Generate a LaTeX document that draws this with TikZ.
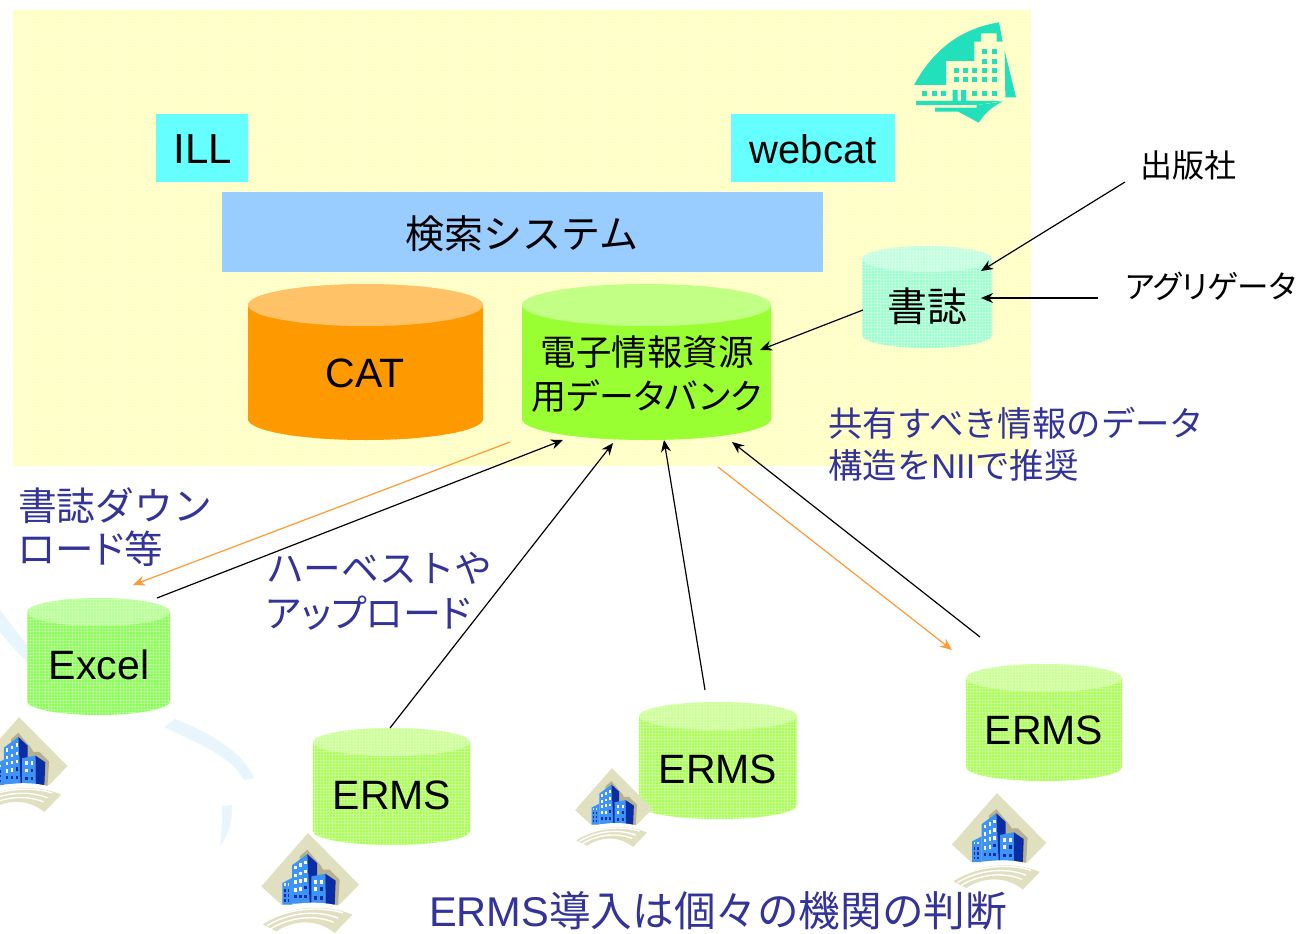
\documentclass[tikz,border=0pt]{standalone}
\usepackage{fontspec}
\setmainfont{Liberation Sans}
\newfontfamily\jp{Noto Sans CJK JP}
\newfontfamily\jq[RawFeature=+palt]{Noto Sans CJK JP}
\usetikzlibrary{arrows.meta,patterns}
\pgfdeclarepatternformonly{mesh}{\pgfpointorigin}{\pgfqpoint{3.3pt}{3.3pt}}{\pgfqpoint{3.3pt}{3.3pt}}{%
  \pgfsetlinewidth{0.8pt}%
  \pgfpathmoveto{\pgfqpoint{0pt}{1.65pt}}\pgfpathlineto{\pgfqpoint{3.3pt}{1.65pt}}%
  \pgfpathmoveto{\pgfqpoint{1.65pt}{0pt}}\pgfpathlineto{\pgfqpoint{1.65pt}{3.3pt}}%
  \pgfusepath{stroke}}
\definecolor{paleY}{HTML}{FFFFBE}
\definecolor{paleM}{HTML}{FFFFE2}
\definecolor{ill}{HTML}{66FFFF}
\definecolor{srch}{HTML}{99CCFF}
\definecolor{catB}{HTML}{FF9900}
\definecolor{catT}{HTML}{FFC266}
\definecolor{eleB}{HTML}{99FF33}
\definecolor{eleT}{HTML}{C2FF85}
\definecolor{bibB}{HTML}{99FFCC}
\definecolor{bibT}{HTML}{C2FFE0}
\definecolor{bibM}{HTML}{D8FFEA}
\definecolor{excB}{HTML}{88FF55}
\definecolor{excT}{HTML}{B8FF99}
\definecolor{excM}{HTML}{D0FFB8}
\definecolor{ermB}{HTML}{A8FF55}
\definecolor{ermT}{HTML}{CCFF99}
\definecolor{ermM}{HTML}{DEFFB8}
\definecolor{inkblue}{HTML}{333399}
\definecolor{arrowO}{HTML}{FF9933}
\definecolor{teal}{HTML}{22E0BB}
\definecolor{bgArc}{HTML}{E8F5FD}
\definecolor{sand}{HTML}{E0DFC0}
\definecolor{shad}{HTML}{B5B08E}
\definecolor{bFront}{HTML}{3D94F5}
\definecolor{bSide}{HTML}{0A2DA5}
\tikzset{
  x=1pt,y=-1pt,
  boxlab/.style={inner sep=0pt,text=black},
  note/.style={inner sep=0pt,text=inkblue,anchor=west,align=left},
  blk/.style={draw=black,line width=1.2pt,-{Stealth[length=12pt,width=10pt]}},
  org/.style={draw=arrowO,line width=1.2pt,-{Stealth[length=12pt,width=10pt]}},
}
\newcommand{\fs}[1]{\fontsize{#1}{#1}\selectfont}
% x1 x2 top bottom ry body top bodymesh topmesh
\newcommand{\cyl}[9]{%
  \path[fill=#6] (#1,#3+#5) -- (#1,#4-#5) .. controls (#1,#4-#5*0.45) and ({#1+(#2-#1)*0.22},#4) .. ({(#1+#2)/2},#4)
     .. controls ({#2-(#2-#1)*0.22},#4) and (#2,#4-#5*0.45) .. (#2,#4-#5) -- (#2,#3+#5) -- cycle;
  \path[pattern=mesh,pattern color=#8] (#1,#3+#5) -- (#1,#4-#5) .. controls (#1,#4-#5*0.45) and ({#1+(#2-#1)*0.22},#4) .. ({(#1+#2)/2},#4)
     .. controls ({#2-(#2-#1)*0.22},#4) and (#2,#4-#5*0.45) .. (#2,#4-#5) -- (#2,#3+#5) -- cycle;
  \fill[#7] ({(#1+#2)/2},#3+#5) ellipse[x radius={(#2-#1)/2},y radius=#5];
  \path[pattern=mesh,pattern color=#9] ({(#1+#2)/2},#3+#5) ellipse[x radius={(#2-#1)/2},y radius=#5];
}
\newcommand{\bldg}[3]{%
  \begin{scope}[shift={(#1,#2)},scale=#3/3,shift={(-925,-730)}]
    \fill[sand] (925,730) -- (1078,885) -- (1020,945) -- (845,945) -- (785,890) -- cycle;
    \fill[shad] (923,780) -- (965,830) -- (970,840) -- (990,840) -- (1020,870) -- (1015,948) -- (900,948) -- (900,800) -- cycle;
    \fill[bFront] (848,880) -- (877,865) -- (877,945) -- (848,945) -- cycle;
    \fill[bFront] (877,827) -- (923,793) -- (930,942) -- (877,942) -- cycle;
    \fill[bSide] (923,793) -- (952,820) -- (952,942) -- (930,942) -- cycle;
    \fill[bFront] (935,860) -- (977,852) -- (978,945) -- (935,942) -- cycle;
    \fill[bSide] (977,852) -- (1008,873) -- (1005,948) -- (978,945) -- cycle;
    \foreach \cy in {828,852,872,895} \fill[white] (884,\cy) rectangle ++(7,11);
    \foreach \cy in {821,846,868,892} \fill[white] (899,\cy) rectangle ++(7,11);
    \foreach \cy in {813,840,865} \fill[white] (914,\cy) rectangle ++(7,11);
    \fill[bSide] (914,888) rectangle ++(7,11);
    \foreach \cx in {884,899,914} \fill[bSide] (\cx,915) rectangle ++(7,11);
    \foreach \cx in {944,962} \fill[white] (\cx,870) rectangle ++(8,12);
    \fill[white] (944,893) rectangle ++(8,12);
    \fill[bSide] (962,893) rectangle ++(8,12);
    \foreach \cx in {944,962} \fill[bSide] (\cx,918) rectangle ++(8,12);
    \foreach \cx in {853,864} \fill[white!80!bFront] (\cx,881) rectangle ++(5,7);
    \foreach \cx in {853,864} \foreach \cy in {898,913,928} \fill[bSide] (\cx,\cy) rectangle ++(5,8);
    \fill[white] (815,968) .. controls (870,935) and (960,932) .. (1025,950) -- (1040,985) -- (815,990) -- cycle;
    \fill[sand] (790,1005) .. controls (850,952) and (970,938) .. (1058,975) -- (1005,1030) .. controls (960,992) and (890,985) .. (830,1025) -- cycle;
    \draw[white,line width=1.4pt] (795,998) .. controls (860,957) and (960,947) .. (1030,970);
    \draw[white,line width=1.4pt] (802,1008) .. controls (870,968) and (950,960) .. (1015,985);
    \draw[white,line width=1.4pt] (812,1018) .. controls (870,982) and (945,974) .. (1002,998);
  \end{scope}
}
\begin{document}
\begin{tikzpicture}
\useasboundingbox (0,0) rectangle (1301,934);
\clip (0,0) rectangle (1301,934);
\fill[white] (0,0) rectangle (1301,934);
% faint background curves
\fill[bgArc] (0,610) -- (27,645) -- (27,662) .. controls (15,650) and (8,642) .. (0,632) -- cycle;
\fill[bgArc] (175,719) .. controls (215,735) and (245,755) .. (254,778) -- (244,780) .. controls (230,755) and (200,745) .. (164,727) -- cycle;
\fill[bgArc] (222,806) -- (232,805) .. controls (232,825) and (228,835) .. (220,846) .. controls (222,830) and (222,820) .. (222,806) -- cycle;
% yellow panel
\fill[paleY] (13,10) rectangle (1031,466);
\path[pattern=mesh,pattern color=paleM] (13,10) rectangle (1031,466);
% hotel logo
\begin{scope}[shift={(880,0)},scale=1/3]
  \fill[teal] (102,255) .. controls (165,140) and (250,85) .. (357,67) -- (368,125) -- (350,125) -- (350,100) -- (303,100) -- (303,125) -- (283,125) -- (283,183) -- (198,183) -- (198,255) -- cycle;
  \fill[teal] (374,152) -- (408,292) -- (376,292) -- cycle;
  \fill[teal] (108,303) -- (218,303) -- (218,270) -- (233,270) -- (233,303) -- (243,303) -- (243,270) -- (258,270) -- (258,303) -- (370,303) -- (290,315) -- (108,315) -- cycle;
  \fill[teal] (165,323) -- (290,323) -- (290,315) -- (368,305) .. controls (335,320) and (315,340) .. (296,368) -- (235,335) -- (165,335) -- cycle;
  \foreach \wx in {306,336} \foreach \wy in {147,177} \fill[teal] (\wx,\wy) rectangle ++(15,15);
  \foreach \wx in {222,249,277,306,336} \foreach \wy in {204,231} \fill[teal] (\wx,\wy) rectangle ++(15,15);
  \foreach \wx in {126,156,184,276,306,336} \fill[teal] (\wx,273) rectangle ++(15,15);
\end{scope}
% boxes
\fill[ill] (156,114) rectangle (248,182);
\fill[ill] (731,114) rectangle (895,182);
\fill[srch] (222,192) rectangle (823,272);
\node[boxlab] (ill) at (203,149) {\fs{42}ILL};
\node[boxlab] (webcat) at (813,149) {\fs{40}webcat};
\node[boxlab] (search) at (522,234) {\fs{39}\jp 検索システム};
% cylinders
\cyl{248}{483}{284}{440}{21}{catB}{catT}{catB}{catT}
\cyl{522}{771}{284}{440}{21}{eleB}{eleT}{eleB}{eleT}
\cyl{862}{992}{246}{348}{13}{bibB}{bibT}{bibM}{bibM}
\cyl{27}{170}{598}{715}{14}{excB}{excT}{excM}{excM}
\cyl{313}{470}{728}{845}{14}{ermB}{ermT}{ermM}{ermM}
\cyl{639}{797}{702}{819}{14}{ermB}{ermT}{ermM}{ermM}
\cyl{966}{1122}{664}{781}{14}{ermB}{ermT}{ermM}{ermM}
% buildings
\bldg{19}{717}{0.95}
\bldg{612}{768}{0.79}
\bldg{997}{793}{0.966}
\bldg{308}{833}{1}
% cylinder labels
\node[boxlab] (cat) at (365,373) {\fs{41}CAT};
\node[boxlab,align=center] (denshi) at (647,374) {\fs{35.5}\jp 電子情報資源\\[10pt]\fs{35}\jq 用データバンク};
\node[boxlab] (shoshi) at (927,306) {\fs{40}\jp 書誌};
\node[boxlab] (excel) at (99,665) {\fs{41}Excel};
\node[boxlab] (erms1) at (392,795) {\fs{41}ERMS};
\node[boxlab] (erms2) at (718,769) {\fs{41}ERMS};
\node[boxlab] (erms3) at (1044,730) {\fs{41}ERMS};
% external labels
\node[boxlab] (pub) at (1188,165) {\fs{32}\jp 出版社};
\node[boxlab] (agg) at (1211,286) {\fs{31.5}\jq アグリゲータ};
% notes
\node[note] (n1) at (828,444) {\fs{34.4}\jp 共有すべき情報のデータ\\[9pt]\fs{34.4}\jp 構造を{\rmfamily NII}で推奨};
\node[note] (n2) at (18,527) {\fs{38.8}\jp 書誌ダウン\\[6pt]\fs{38.5}\jq ロード等};
\node[note] (n3) at (266,591) {\fs{37.6}\jp ハーベストや\\[10pt]\fs{38}\jq アップロード};
\node[boxlab,text=inkblue] (n4) at (718,911) {\fs{41.6}ERMS{\jp 導入は個々の機関の判断}};
% connector ends
\coordinate (e1a) at (510,442); \coordinate (e1b) at (133,585);
\coordinate (e2a) at (718,467); \coordinate (e2b) at (952,650);
\coordinate (b1a) at (157,598); \coordinate (b1b) at (563,440);
\coordinate (b2a) at (390,728); \coordinate (b2b) at (613,443);
\coordinate (b3a) at (705,690); \coordinate (b3b) at (664,440);
\coordinate (b4a) at (980,637); \coordinate (b4b) at (732,442);
\coordinate (b5a) at (863,310); \coordinate (b5b) at (760,350);
\coordinate (b6a) at (1125,182); \coordinate (b6b) at (981,271);
\coordinate (b7a) at (1098,298); \coordinate (b7b) at (981,298);
\draw[org] (e1a) -- (e1b);
\draw[org] (e2a) -- (e2b);
\draw[blk] (b1a) -- (b1b);
\draw[blk] (b2a) -- (b2b);
\draw[blk] (b3a) -- (b3b);
\draw[blk] (b4a) -- (b4b);
\draw[blk] (b5a) -- (b5b);
\draw[blk] (b6a) -- (b6b);
\draw[blk] (b7a) -- (b7b);
\end{tikzpicture}
\end{document}
